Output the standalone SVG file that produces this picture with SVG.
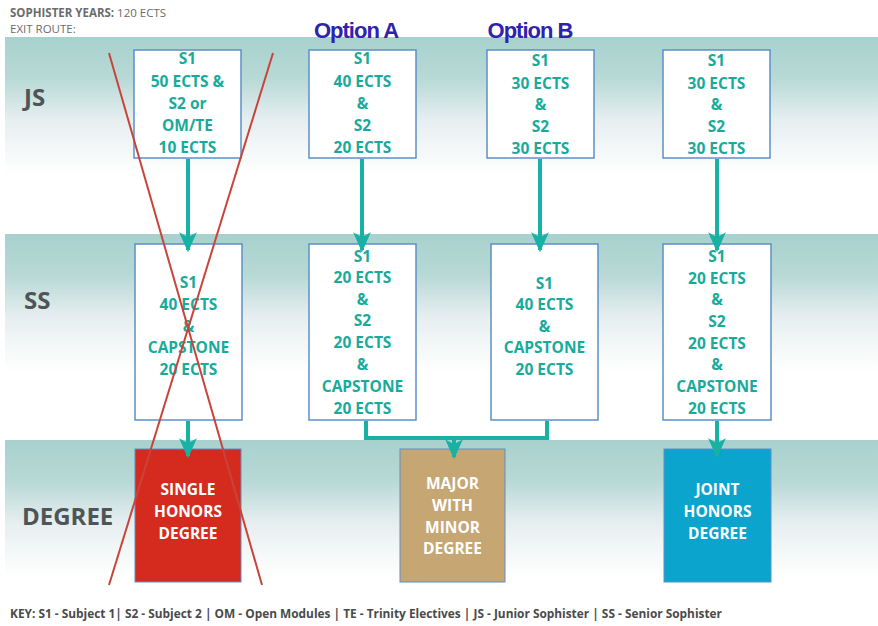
<svg xmlns="http://www.w3.org/2000/svg" width="878" height="626" viewBox="0 0 878 626">
<defs>
<linearGradient id="band" x1="0" y1="0" x2="0" y2="1">
<stop offset="0" stop-color="#a7d1cd"/>
<stop offset="0.3" stop-color="#b8d9d6"/>
<stop offset="0.6" stop-color="#e6eef0"/>
<stop offset="0.85" stop-color="#f6f9f9"/>
<stop offset="1" stop-color="#ffffff"/>
</linearGradient>
<marker id="ah" markerUnits="userSpaceOnUse" markerWidth="20" markerHeight="20" refX="16" refY="9" orient="auto" viewBox="0 0 18 18">
<path d="M0,1 L4.5,9 L0,17 L18,9 Z" fill="#17b2a4"/>
</marker>
<style>
.band{fill:url(#band)}
.box{fill:#ffffff;stroke:#5c90c6;stroke-width:1.5}
.t{font-family:"Open Sans","Liberation Sans",sans-serif;font-weight:700;font-size:15.5px;fill:#18aa9b;text-anchor:middle}
.w{font-family:"Open Sans","Liberation Sans",sans-serif;font-weight:700;font-size:15.5px;fill:#ffffff;text-anchor:middle}
.row{font-family:"Open Sans","Liberation Sans",sans-serif;font-weight:700;font-size:24px;fill:#4f5456}
.opt{font-family:"Liberation Sans",Arial,sans-serif;font-weight:700;font-size:22px;fill:#2f22ae;letter-spacing:-1px}
.hdr{font-family:"Open Sans","Liberation Sans",sans-serif;font-size:11.5px;fill:#6b6b6b}
.key{font-family:"Open Sans","Liberation Sans",sans-serif;font-weight:700;font-size:11.5px;fill:#4a4a4a}
.conn{fill:none;stroke:#17b2a4;stroke-width:4}
.x{stroke:#c8443b;stroke-width:2;fill:none}
</style>
</defs>
<rect x="0" y="0" width="878" height="626" fill="#ffffff"/>
<rect class="band" x="5" y="37" width="873" height="138"/>
<rect class="band" x="5" y="234" width="873" height="138"/>
<rect class="band" x="5" y="440" width="873" height="138"/>

<text class="hdr" x="10" y="17"><tspan font-weight="700">SOPHISTER YEARS:</tspan> 120 ECTS</text>
<text class="hdr" x="10" y="33">EXIT ROUTE:</text>
<text class="opt" x="356" y="38" text-anchor="middle">Option A</text>
<text class="opt" x="530" y="38" text-anchor="middle">Option B</text>

<text class="row" x="24" y="106">JS</text>
<text class="row" x="24" y="309">SS</text>
<text class="row" x="22" y="525">DEGREE</text>

<g id="js1"><rect class="box" x="134" y="50" width="107" height="108"/>
<text class="t" x="187.5" y="64">S1</text><text class="t" x="187.5" y="87">50 ECTS &amp;</text><text class="t" x="187.5" y="109">S2 or</text><text class="t" x="187.5" y="131">OM/TE</text><text class="t" x="187.5" y="153">10 ECTS</text></g>
<g id="js2"><rect class="box" x="309" y="50" width="107" height="108"/>
<text class="t" x="362.5" y="64">S1</text><text class="t" x="362.5" y="87">40 ECTS</text><text class="t" x="362.5" y="109">&amp;</text><text class="t" x="362.5" y="131">S2</text><text class="t" x="362.5" y="153">20 ECTS</text></g>
<g id="js3"><rect class="box" x="487" y="50" width="107" height="108"/>
<text class="t" x="540.5" y="66">S1</text><text class="t" x="540.5" y="89">30 ECTS</text><text class="t" x="540.5" y="110">&amp;</text><text class="t" x="540.5" y="132">S2</text><text class="t" x="540.5" y="154">30 ECTS</text></g>
<g id="js4"><rect class="box" x="663" y="50" width="107" height="108"/>
<text class="t" x="716.5" y="66">S1</text><text class="t" x="716.5" y="89">30 ECTS</text><text class="t" x="716.5" y="110">&amp;</text><text class="t" x="716.5" y="132">S2</text><text class="t" x="716.5" y="154">30 ECTS</text></g>

<g id="ss1"><rect class="box" x="135" y="244" width="107" height="176"/>
<text class="t" x="188.5" y="288">S1</text><text class="t" x="188.5" y="310">40 ECTS</text><text class="t" x="188.5" y="332">&amp;</text><text class="t" x="188.5" y="353">CAPSTONE</text><text class="t" x="188.5" y="375">20 ECTS</text></g>
<g id="ss2"><rect class="box" x="309" y="244" width="107" height="176"/>
<text class="t" x="362.5" y="262">S1</text><text class="t" x="362.5" y="283">20 ECTS</text><text class="t" x="362.5" y="305">&amp;</text><text class="t" x="362.5" y="326">S2</text><text class="t" x="362.5" y="348">20 ECTS</text><text class="t" x="362.5" y="370">&amp;</text><text class="t" x="362.5" y="392">CAPSTONE</text><text class="t" x="362.5" y="414">20 ECTS</text></g>
<g id="ss3"><rect class="box" x="491" y="244" width="107" height="176"/>
<text class="t" x="544.5" y="289">S1</text><text class="t" x="544.5" y="310">40 ECTS</text><text class="t" x="544.5" y="332">&amp;</text><text class="t" x="544.5" y="353">CAPSTONE</text><text class="t" x="544.5" y="375">20 ECTS</text></g>
<g id="ss4"><rect class="box" x="663" y="244" width="108" height="176"/>
<text class="t" x="717" y="262">S1</text><text class="t" x="717" y="284">20 ECTS</text><text class="t" x="717" y="305">&amp;</text><text class="t" x="717" y="327">S2</text><text class="t" x="717" y="349">20 ECTS</text><text class="t" x="717" y="370">&amp;</text><text class="t" x="717" y="392">CAPSTONE</text><text class="t" x="717" y="414">20 ECTS</text></g>

<g id="deg-single"><rect x="135" y="449" width="106" height="133" fill="#d52b1e" stroke="#5c90c6" stroke-width="1"/>
<text class="w" x="188" y="495">SINGLE</text><text class="w" x="188" y="517">HONORS</text><text class="w" x="188" y="539">DEGREE</text></g>
<g id="deg-major"><rect x="400" y="449" width="105" height="133" fill="#c6a673" stroke="#5c90c6" stroke-width="1"/>
<text class="w" x="452.5" y="489">MAJOR</text><text class="w" x="452.5" y="511">WITH</text><text class="w" x="452.5" y="533">MINOR</text><text class="w" x="452.5" y="554">DEGREE</text></g>
<g id="deg-joint"><rect x="664" y="449" width="107" height="133" fill="#0ba4cd" stroke="#5c90c6" stroke-width="1"/>
<text class="w" x="717.5" y="495">JOINT</text><text class="w" x="717.5" y="517">HONORS</text><text class="w" x="717.5" y="539">DEGREE</text></g>

<g id="connectors">
<line class="conn" x1="188" y1="159" x2="188" y2="250" marker-end="url(#ah)"/>
<line class="conn" x1="362" y1="159" x2="362" y2="250" marker-end="url(#ah)"/>
<line class="conn" x1="540" y1="159" x2="540" y2="250" marker-end="url(#ah)"/>
<line class="conn" x1="717" y1="159" x2="717" y2="250" marker-end="url(#ah)"/>
<line class="conn" x1="188" y1="421" x2="188" y2="456" marker-end="url(#ah)"/>
<line class="conn" x1="717" y1="421" x2="717" y2="456" marker-end="url(#ah)"/>
<path class="conn" d="M366,421 V438 H547 V421"/>
<line class="conn" x1="454" y1="438" x2="454" y2="457" marker-end="url(#ah)"/>
</g>

<line class="x" x1="109" y1="53" x2="262" y2="585"/>
<line class="x" x1="273" y1="53" x2="109" y2="585"/>

<text class="key" x="10" y="618" textLength="712" lengthAdjust="spacingAndGlyphs">KEY: S1 - Subject 1| S2 - Subject 2 | OM - Open Modules | TE - Trinity Electives | JS - Junior Sophister | SS - Senior Sophister</text>
</svg>
